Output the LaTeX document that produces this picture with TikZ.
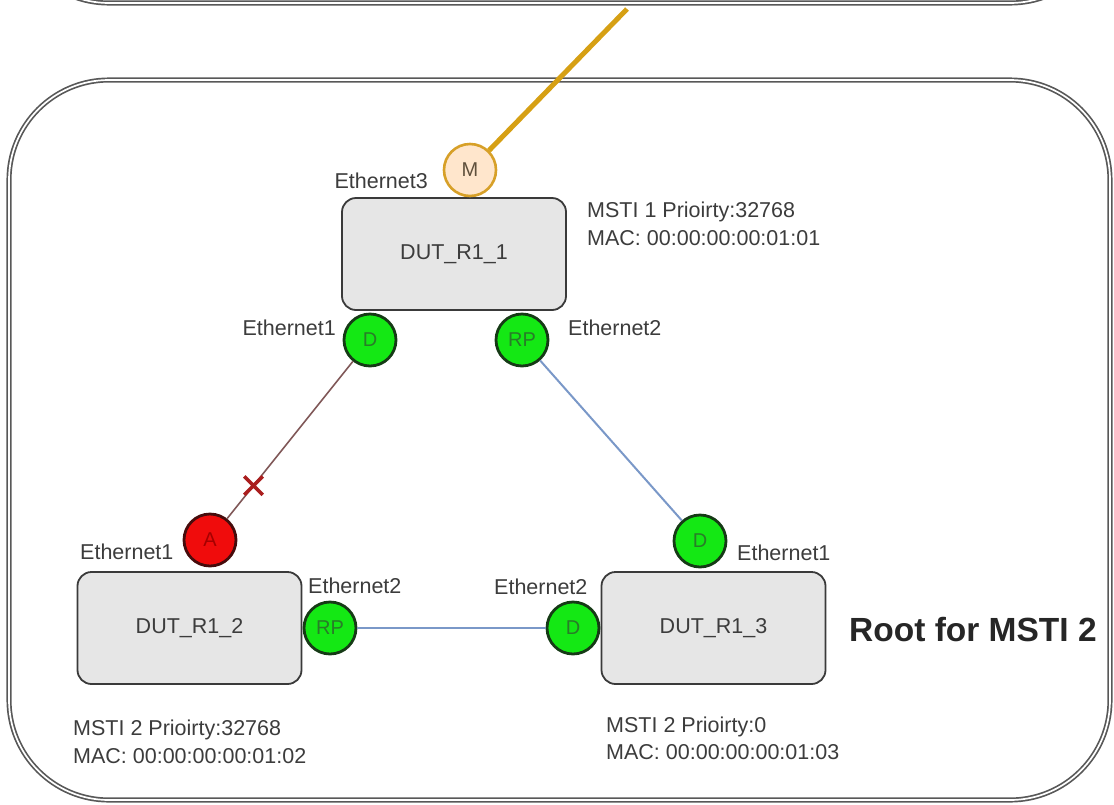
\documentclass[tikz,border=0pt]{standalone}
\usepackage{fontspec}
\setmainfont{Liberation Sans}
\usetikzlibrary{shapes.misc}

\definecolor{txt}{RGB}{60,60,60}
\definecolor{boxfill}{RGB}{230,230,230}
\definecolor{boxline}{RGB}{58,58,58}
\definecolor{pgreen}{RGB}{20,232,20}
\definecolor{pgreenline}{RGB}{22,58,22}
\definecolor{pgreentext}{RGB}{40,125,40}
\definecolor{pred}{RGB}{240,12,12}
\definecolor{predline}{RGB}{70,12,12}
\definecolor{predtext}{RGB}{165,0,0}
\definecolor{mfill}{RGB}{255,230,204}
\definecolor{mline}{RGB}{215,160,40}
\definecolor{mtext}{RGB}{95,80,60}
\definecolor{uplinkcol}{RGB}{214,160,20}
\definecolor{linkblue}{RGB}{122,152,200}
\definecolor{linkbrown}{RGB}{128,88,88}
\definecolor{crossred}{RGB}{170,30,30}
\definecolor{framecol}{RGB}{88,88,88}

\begin{document}
\begin{tikzpicture}[x=1pt,y=-1pt,
  container/.style={draw=framecol, double=white, double distance=1.7pt,
    line width=1.7pt, rounded corners=100pt},
  dut/.style={draw=boxline, fill=boxfill, line width=1.8pt, rounded corners=14pt,
    minimum width=224pt, minimum height=112pt, inner sep=0pt,
    font=\fontsize{21.5}{26}\selectfont, text=txt},
  port/.style={circle, inner sep=0pt, minimum size=52pt, line width=2.8pt,
    font=\fontsize{20}{22}\selectfont},
  desig/.style={port, fill=pgreen, draw=pgreenline, text=pgreentext},
  altp/.style={port, fill=pred, draw=predline, text=predtext},
  mport/.style={port, fill=mfill, draw=mline, line width=2.6pt, text=mtext},
  lbl/.style={font=\fontsize{21.5}{26}\selectfont, text=txt, inner sep=0pt},
  bluelink/.style={draw=linkblue, line width=2pt},
  brownlink/.style={draw=linkbrown, line width=1.6pt},
  uplink/.style={draw=uplinkcol, line width=5pt},
  blocked/.style={cross out, draw=crossred, line width=3.5pt,
    minimum size=15pt, inner sep=0pt}
]
\useasboundingbox (0,0) rectangle (1114,804);

% neighbouring region above, only its lower edge shows
\begin{scope}
  \clip (0,0) rectangle (1114,804);
  \draw[container] (9,-300) rectangle (1110,3);
\end{scope}

% region holding the three switches
\draw[container] (9,80) rectangle (1110,800);

% switches
\node[dut] (r1) at (454,254) {DUT\_R1\_1};
\node[dut] (r2) at (189.5,628) {DUT\_R1\_2};
\node[dut] (r3) at (713.5,628) {DUT\_R1\_3};

% ports
\node[mport] (m)   at (470,170) {M};
\node[desig] (d1)  at (370,340) {D};
\node[desig] (rp1) at (522,340) {RP};
\node[altp]  (a2)  at (210,540) {A};
\node[desig] (rp2) at (330,628) {RP};
\node[desig] (d3a) at (700,541) {D};
\node[desig] (d3b) at (573,628) {D};

% links
\coordinate (up) at (627,9);
\draw[uplink] (m) -- (up);
\draw[brownlink] (d1) -- (a2) node[blocked, pos=0.79] (blk) {};
\draw[bluelink] (rp1) -- (d3a);
\draw[bluelink] (rp2) -- (d3b);

% port names
\node[lbl, anchor=base east] (l3)   at (428,188) {Ethernet3};
\node[lbl, anchor=base east] (l11)  at (336,335) {Ethernet1};
\node[lbl, anchor=base west] (l12)  at (568,335) {Ethernet2};
\node[lbl, anchor=base west] (l21)  at (80,559)  {Ethernet1};
\node[lbl, anchor=base west] (l22)  at (308,593) {Ethernet2};
\node[lbl, anchor=base west] (l32)  at (494,594) {Ethernet2};
\node[lbl, anchor=base west] (l31)  at (737,560) {Ethernet1};

% bridge details
\node[lbl, anchor=base west] (i1a) at (587,217) {MSTI 1 Prioirty:32768};
\node[lbl, anchor=base west] (i1b) at (587,245) {MAC: 00:00:00:00:01:01};
\node[lbl, anchor=base west] (i2a) at (73,735)  {MSTI 2 Prioirty:32768};
\node[lbl, anchor=base west] (i2b) at (73,763)  {MAC: 00:00:00:00:01:02};
\node[lbl, anchor=base west] (i3a) at (606,732) {MSTI 2 Prioirty:0};
\node[lbl, anchor=base west] (i3b) at (606,759) {MAC: 00:00:00:00:01:03};

\node[anchor=base west, inner sep=0pt, text=black!85,
  font=\fontsize{33.5}{38}\selectfont\bfseries] (root) at (849,641) {Root for MSTI 2};
\end{tikzpicture}
\end{document}
